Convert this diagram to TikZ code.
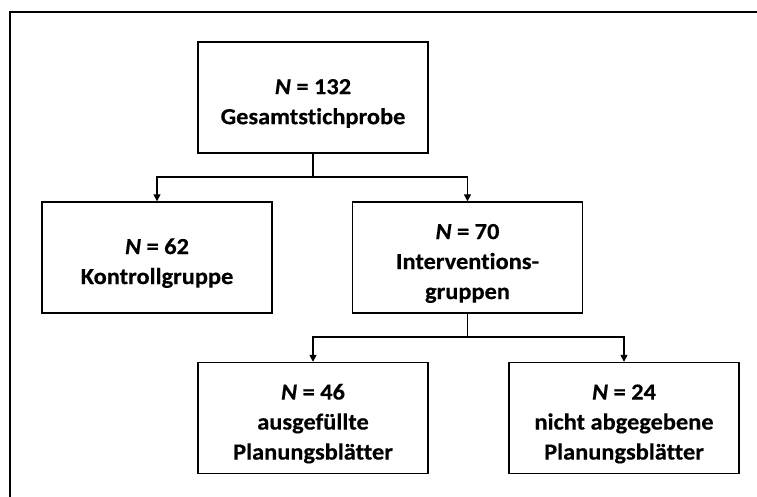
\documentclass[tikz,border=0pt]{standalone}
\usepackage{fontspec}
\setmainfont[Ligatures=NoCommon, FakeStretch=1.06, FakeBold=0.4]{Carlito}
\usetikzlibrary{arrows.meta}
\newcommand{\toppad}{\rule{0pt}{27pt}}
\tikzset{
  box/.style={draw, line width=1.4pt, minimum width=230pt, minimum height=111pt, inner sep=0pt, align=center, font=\fontsize{23}{30}\selectfont\bfseries},
  conn/.style={line width=1.4pt},
  arr/.style={line width=1.4pt, -{Triangle[length=7pt,width=7pt]}},
  frame/.style={line width=1.3pt}
}
\begin{document}
\begin{tikzpicture}[x=1pt,y=-1pt]
\useasboundingbox (0,0) rectangle (757,497);
\coordinate (fbl) at (10,497);
\coordinate (ftl) at (10,12);
\coordinate (ftr) at (757,12);
\draw[frame] (fbl) -- (ftl) -- (ftr);
\node[box] (top) at (313,97.5) {\toppad\textit{N} = 132\\Gesamtstichprobe};
\node[box] (kg) at (157,257.5) {\toppad\textit{N} = 62\\Kontrollgruppe};
\node[box] (ig) at (467.5,257.5) {\toppad\textit{N} = 70\\Interventions-\\gruppen};
\node[box] (aus) at (313,418) {\toppad\textit{N} = 46\\ausgefüllte\\Planungsblätter};
\node[box] (nab) at (624,418) {\toppad\textit{N} = 24\\nicht abgegebene\\Planungsblätter};
\coordinate (j1) at (313,177);
\coordinate (j2) at (467.5,337);
\draw[conn] (top.south) -- (j1);
\draw[arr] (j1) -| (kg.north);
\draw[arr] (j1) -| (ig.north);
\draw[conn] (ig.south) -- (j2);
\draw[arr] (j2) -| (aus.north);
\draw[arr] (j2) -| (nab.north);
\end{tikzpicture}
\end{document}
